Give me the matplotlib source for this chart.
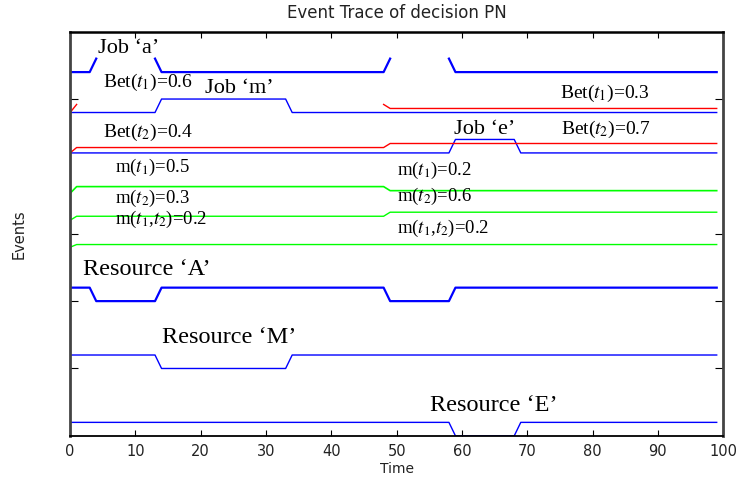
import numpy as np
import matplotlib
matplotlib.use("Agg")
import matplotlib.pyplot as plt

plt.rcParams["mathtext.fontset"] = "stix"

# sample times of the trace
t = np.arange(0, 100)

# each event: (time it starts, new level); nan marks a stretch left undrawn
job_a = [(0, 0), (4, 1), (5, np.nan), (13, 1), (14, 0),
         (49, 1), (50, np.nan), (58, 1), (59, 0)]
job_m = [(0, 0), (14, 1), (34, 0)]
job_e = [(0, 0), (59, 1), (69, 0)]
bet_t1 = [(0, 0), (1, 0.6), (2, np.nan), (48, 0.6), (49, 0.3)]
bet_t2 = [(0, 0), (1, 0.4), (49, 0.7)]
m_t1 = [(0, 0), (1, 0.5), (49, 0.2)]
m_t2 = [(0, 0), (1, 0.3), (49, 0.6)]
m_t12 = [(0, 0), (1, 0.2)]
res_a = [(0, 1), (4, 0), (14, 1), (49, 0), (59, 1)]
res_m = [(0, 1), (14, 0), (34, 1)]
res_e = [(0, 1), (59, 0), (69, 1)]


def sample(steps):
    y = np.empty(len(t))
    for start, val in steps:
        y[t >= start] = val
    return y


# (events, row offset, colour, line width)
traces = [
    (job_a, 27, "#0000ff", 1.6),
    (job_m, 24, "#0000ff", 1.0),
    (bet_t1, 24, "#ff0000", 1.0),
    (job_e, 21, "#0000ff", 1.0),
    (bet_t2, 21, "#ff0000", 1.0),
    (m_t1, 18, "#00ff00", 1.2),
    (m_t2, 16, "#00ff00", 1.0),
    (m_t12, 14, "#00ff00", 1.0),
    (res_a, 10, "#0000ff", 1.6),
    (res_m, 5, "#0000ff", 1.0),
    (res_e, 0, "#0000ff", 1.0),
]

# annotation text, x, baseline y, font size
labels = [
    ("Job \u2018a\u2019", 4.3, 28.4, 16),
    ("Job \u2018m\u2019", 20.7, 25.45, 16),
    ("Job \u2018e\u2019", 58.8, 22.4, 16),
    ("Bet($t_1$)=0.6", 5.0, 25.9, 14),
    ("Bet($t_2$)=0.4", 5.1, 22.2, 14),
    ("Bet($t_1$)=0.3", 75.0, 25.05, 14),
    ("Bet($t_2$)=0.7", 75.2, 22.4, 14),
    ("m($t_1$)=0.5", 6.9, 19.6, 13.5),
    ("m($t_2$)=0.3", 6.9, 17.3, 13.5),
    ("m($t_1$,$t_2$)=0.2", 6.9, 15.7, 13.5),
    ("m($t_1$)=0.2", 50.0, 19.4, 13.5),
    ("m($t_2$)=0.6", 50.0, 17.4, 13.5),
    ("m($t_1$,$t_2$)=0.2", 50.0, 15.05, 13.5),
    ("Resource \u2018A\u2019", 2.0, 11.95, 17.5),
    ("Resource \u2018M\u2019", 14.0, 6.88, 17.5),
    ("Resource \u2018E\u2019", 55.1, 1.86, 17.5),
]

fig = plt.figure(figsize=(7.38, 4.8), dpi=100)
ax = fig.add_axes([0.095, 0.092, 0.885, 0.842])

for steps, off, col, lw in traces:
    ax.plot(t, sample(steps) + off, color=col, lw=lw)

for txt, x, y, size in labels:
    ax.text(x, y, txt, fontsize=size, family="Liberation Serif",
            va="baseline", ha="left")

ax.set_xlim(0, 100)
ax.set_ylim(0, 30)
ax.set_xticks(np.arange(0, 101, 10))
ax.set_yticks([5, 10, 15, 25])
ax.set_yticklabels([])
ax.tick_params(axis="x", direction="in", length=4, top=True,
               labelsize=10.5, labelcolor="#222222", pad=6)
ax.tick_params(axis="y", direction="in", length=6, right=True)

for side in ("left", "right"):
    ax.spines[side].set_color("#444444")
    ax.spines[side].set_linewidth(2.0)
ax.spines["top"].set_linewidth(1.8)
ax.spines["bottom"].set_linewidth(1.3)

ax.set_xlabel("Time", fontsize=10, color="#222222", labelpad=2)
ax.set_ylabel("Events", fontsize=10.5, color="#222222", labelpad=28)
ax.set_title("Event Trace of decision PN", fontsize=12, color="#222222", pad=10)

fig.savefig("out.png", dpi=100)
